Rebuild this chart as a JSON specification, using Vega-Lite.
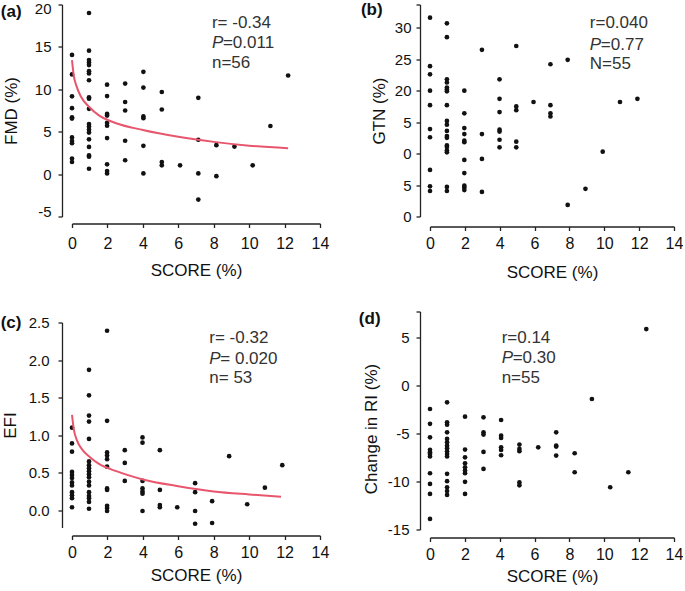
{
  "$schema": "https://vega.github.io/schema/vega-lite/v6.json",
  "padding": {"left": 0, "top": -2.5, "right": 0, "bottom": 0},
  "background": "white",
  "datasets": {
    "a_pts": [
      {"score": 0, "value": 14.05}, {"score": 0, "value": 11.75}, {"score": 0, "value": 9.17}, {"score": 0, "value": 7.78}, {"score": 0, "value": 6.7}, {"score": 0, "value": 6.55}, {"score": 0, "value": 4.33}, {"score": 0, "value": 3.9}, {"score": 0, "value": 3.65}, {"score": 0, "value": 1.83}, {"score": 0, "value": 1.43},
      {"score": 0.96, "value": 19.0}, {"score": 0.96, "value": 14.56}, {"score": 0.96, "value": 13.45}, {"score": 0.96, "value": 13.17}, {"score": 0.96, "value": 12.86}, {"score": 0.96, "value": 12.14}, {"score": 0.96, "value": 11.87}, {"score": 0.96, "value": 11.07}, {"score": 0.96, "value": 9.05}, {"score": 0.96, "value": 8.9}, {"score": 0.96, "value": 7.7}, {"score": 0.96, "value": 5.9}, {"score": 0.96, "value": 5.6}, {"score": 0.96, "value": 5.24}, {"score": 0.96, "value": 4.9}, {"score": 0.96, "value": 4.1}, {"score": 0.96, "value": 3.2}, {"score": 0.96, "value": 2.2}, {"score": 0.96, "value": 2.06}, {"score": 0.96, "value": 0.63},
      {"score": 1.98, "value": 10.55}, {"score": 1.98, "value": 9.2}, {"score": 1.98, "value": 7.1}, {"score": 1.98, "value": 6.9}, {"score": 1.98, "value": 6.03}, {"score": 1.98, "value": 5.7}, {"score": 1.98, "value": 4.25}, {"score": 1.98, "value": 1.15}, {"score": 1.98, "value": 0.36}, {"score": 1.98, "value": 0.08},
      {"score": 3.0, "value": 10.67}, {"score": 3.0, "value": 8.5}, {"score": 3.0, "value": 7.5}, {"score": 3.0, "value": 3.93}, {"score": 3.0, "value": 1.63},
      {"score": 4.03, "value": 12.06}, {"score": 4.03, "value": 10.2}, {"score": 4.03, "value": 6.8}, {"score": 4.03, "value": 6.6}, {"score": 4.03, "value": 3.33}, {"score": 4.03, "value": 0.08},
      {"score": 5.07, "value": 9.68}, {"score": 5.07, "value": 7.62}, {"score": 5.07, "value": 1.43}, {"score": 5.07, "value": 1.03},
      {"score": 6.1, "value": 1.03},
      {"score": 7.13, "value": 9.0}, {"score": 7.13, "value": 4.05}, {"score": 7.13, "value": 0.08}, {"score": 7.13, "value": -3.0},
      {"score": 8.15, "value": 3.41}, {"score": 8.15, "value": -0.24},
      {"score": 9.17, "value": 3.25}, {"score": 10.2, "value": 1.03}, {"score": 11.2, "value": 5.67}, {"score": 12.2, "value": 11.63}
    ],
    "a_fit": [
      {"score": 0, "value": 13.45}, {"score": 0.1, "value": 11.6}, {"score": 0.25, "value": 10.4}, {"score": 0.5, "value": 9.15}, {"score": 1, "value": 7.85}, {"score": 1.5, "value": 6.95}, {"score": 2.5, "value": 6.0}, {"score": 4, "value": 5.2}, {"score": 6, "value": 4.4}, {"score": 8, "value": 3.8}, {"score": 10, "value": 3.35}, {"score": 12.2, "value": 3.05}
    ],
    "b_pts": [
      {"score": 0, "value": 31.6}, {"score": 0, "value": 23.9}, {"score": 0, "value": 22.6}, {"score": 0, "value": 20.0}, {"score": 0, "value": 17.7}, {"score": 0, "value": 13.9}, {"score": 0, "value": 12.6}, {"score": 0, "value": 7.4}, {"score": 0, "value": 4.8}, {"score": 0, "value": 4.05},
      {"score": 0.97, "value": 30.7}, {"score": 0.97, "value": 28.5}, {"score": 0.97, "value": 21.8}, {"score": 0.97, "value": 21.3}, {"score": 0.97, "value": 20.5}, {"score": 0.97, "value": 20.2}, {"score": 0.97, "value": 19.9}, {"score": 0.97, "value": 17.7}, {"score": 0.97, "value": 15.2}, {"score": 0.97, "value": 14.6}, {"score": 0.97, "value": 13.6}, {"score": 0.97, "value": 12.8}, {"score": 0.97, "value": 12.5}, {"score": 0.97, "value": 11.3}, {"score": 0.97, "value": 11.05}, {"score": 0.97, "value": 10.5}, {"score": 0.97, "value": 10.2}, {"score": 0.97, "value": 4.7}, {"score": 0.97, "value": 4.05},
      {"score": 1.97, "value": 20.0}, {"score": 1.97, "value": 16.4}, {"score": 1.97, "value": 14.05}, {"score": 1.97, "value": 13.1}, {"score": 1.97, "value": 12.05}, {"score": 1.97, "value": 11.8}, {"score": 1.97, "value": 9.0}, {"score": 1.97, "value": 6.9}, {"score": 1.97, "value": 4.9}, {"score": 1.97, "value": 4.6}, {"score": 1.97, "value": 4.2},
      {"score": 2.98, "value": 26.5}, {"score": 2.98, "value": 13.1}, {"score": 2.98, "value": 9.15}, {"score": 2.98, "value": 3.9},
      {"score": 3.99, "value": 21.8}, {"score": 3.99, "value": 18.7}, {"score": 3.99, "value": 16.6}, {"score": 3.99, "value": 13.8}, {"score": 3.99, "value": 13.5}, {"score": 3.99, "value": 12.2}, {"score": 3.99, "value": 11.0},
      {"score": 4.95, "value": 27.1}, {"score": 4.95, "value": 17.5}, {"score": 4.95, "value": 16.9}, {"score": 4.95, "value": 11.9}, {"score": 4.95, "value": 11.0},
      {"score": 5.94, "value": 18.2},
      {"score": 6.91, "value": 24.2}, {"score": 6.91, "value": 17.7}, {"score": 6.91, "value": 16.4}, {"score": 6.91, "value": 15.9},
      {"score": 7.9, "value": 24.9}, {"score": 7.9, "value": 1.84},
      {"score": 8.92, "value": 4.4}, {"score": 9.91, "value": 10.3}, {"score": 10.9, "value": 18.2}, {"score": 11.9, "value": 18.7}
    ],
    "c_pts": [
      {"score": 0, "value": 1.1}, {"score": 0, "value": 0.89}, {"score": 0, "value": 0.78}, {"score": 0, "value": 0.51}, {"score": 0, "value": 0.47}, {"score": 0, "value": 0.43}, {"score": 0, "value": 0.37}, {"score": 0, "value": 0.33}, {"score": 0, "value": 0.24}, {"score": 0, "value": 0.2}, {"score": 0, "value": 0.16}, {"score": 0, "value": 0.04},
      {"score": 0.96, "value": 1.87}, {"score": 0.96, "value": 1.53}, {"score": 0.96, "value": 1.26}, {"score": 0.96, "value": 1.18}, {"score": 0.96, "value": 0.95}, {"score": 0.96, "value": 0.65}, {"score": 0.96, "value": 0.6}, {"score": 0.96, "value": 0.56}, {"score": 0.96, "value": 0.52}, {"score": 0.96, "value": 0.48}, {"score": 0.96, "value": 0.44}, {"score": 0.96, "value": 0.38}, {"score": 0.96, "value": 0.33}, {"score": 0.96, "value": 0.24}, {"score": 0.96, "value": 0.19}, {"score": 0.96, "value": 0.16}, {"score": 0.96, "value": 0.11}, {"score": 0.96, "value": 0.02},
      {"score": 1.98, "value": 2.39}, {"score": 1.98, "value": 1.19}, {"score": 1.98, "value": 0.77}, {"score": 1.98, "value": 0.73}, {"score": 1.98, "value": 0.68}, {"score": 1.98, "value": 0.58}, {"score": 1.98, "value": 0.29}, {"score": 1.98, "value": 0.27}, {"score": 1.98, "value": 0.06}, {"score": 1.98, "value": 0.03}, {"score": 1.98, "value": -0.01},
      {"score": 2.98, "value": 0.8}, {"score": 2.98, "value": 0.63}, {"score": 2.98, "value": 0.39},
      {"score": 3.98, "value": 0.97}, {"score": 3.98, "value": 0.9}, {"score": 3.98, "value": 0.39}, {"score": 3.98, "value": 0.29}, {"score": 3.98, "value": 0.25}, {"score": 3.98, "value": 0.22}, {"score": 3.98, "value": -0.01},
      {"score": 4.96, "value": 0.8}, {"score": 4.96, "value": 0.27}, {"score": 4.96, "value": 0.07}, {"score": 4.96, "value": 0.04},
      {"score": 5.94, "value": 0.04},
      {"score": 6.95, "value": 0.36}, {"score": 6.95, "value": 0.24}, {"score": 6.95, "value": -0.01}, {"score": 6.95, "value": -0.18},
      {"score": 7.91, "value": 0.12}, {"score": 7.91, "value": -0.17},
      {"score": 8.87, "value": 0.72}, {"score": 9.89, "value": 0.08}, {"score": 10.89, "value": 0.3}, {"score": 11.87, "value": 0.6}
    ],
    "c_fit": [
      {"score": 0, "value": 1.27}, {"score": 0.1, "value": 1.08}, {"score": 0.28, "value": 0.93}, {"score": 0.6, "value": 0.8}, {"score": 1, "value": 0.71}, {"score": 1.5, "value": 0.62}, {"score": 2.5, "value": 0.52}, {"score": 4, "value": 0.41}, {"score": 6, "value": 0.32}, {"score": 8, "value": 0.25}, {"score": 10, "value": 0.21}, {"score": 11.8, "value": 0.18}
    ],
    "d_pts": [
      {"score": 0, "value": -2.45}, {"score": 0, "value": -4.0}, {"score": 0, "value": -5.4}, {"score": 0, "value": -6.7}, {"score": 0, "value": -6.96}, {"score": 0, "value": -7.13}, {"score": 0, "value": -7.4}, {"score": 0, "value": -9.14}, {"score": 0, "value": -10.25}, {"score": 0, "value": -11.3}, {"score": 0, "value": -13.9},
      {"score": 0.98, "value": -1.76}, {"score": 0.98, "value": -3.84}, {"score": 0.98, "value": -4.08}, {"score": 0.98, "value": -4.88}, {"score": 0.98, "value": -5.57}, {"score": 0.98, "value": -5.92}, {"score": 0.98, "value": -6.27}, {"score": 0.98, "value": -6.54}, {"score": 0.98, "value": -6.85}, {"score": 0.98, "value": -7.13}, {"score": 0.98, "value": -7.4}, {"score": 0.98, "value": -9.2}, {"score": 0.98, "value": -9.97}, {"score": 0.98, "value": -10.6}, {"score": 0.98, "value": -11.0}, {"score": 0.98, "value": -11.4},
      {"score": 2.01, "value": -3.25}, {"score": 2.01, "value": -6.68}, {"score": 2.01, "value": -7.48}, {"score": 2.01, "value": -8.1}, {"score": 2.01, "value": -8.52}, {"score": 2.01, "value": -8.86}, {"score": 2.01, "value": -9.14}, {"score": 2.01, "value": -10.04}, {"score": 2.01, "value": -11.3},
      {"score": 3.07, "value": -3.32}, {"score": 3.07, "value": -4.88}, {"score": 3.07, "value": -5.12}, {"score": 3.07, "value": -6.92}, {"score": 3.07, "value": -8.69},
      {"score": 4.08, "value": -3.6}, {"score": 4.08, "value": -5.23}, {"score": 4.08, "value": -5.47}, {"score": 4.08, "value": -6.44}, {"score": 4.08, "value": -6.72}, {"score": 4.08, "value": -7.27},
      {"score": 5.13, "value": -6.16}, {"score": 5.13, "value": -6.61}, {"score": 5.13, "value": -6.85}, {"score": 5.13, "value": -10.1}, {"score": 5.13, "value": -10.4},
      {"score": 6.21, "value": -6.44},
      {"score": 7.24, "value": -4.88}, {"score": 7.24, "value": -6.27}, {"score": 7.24, "value": -6.37}, {"score": 7.24, "value": -7.3},
      {"score": 8.3, "value": -7.06}, {"score": 8.3, "value": -9.04},
      {"score": 9.29, "value": -1.41}, {"score": 10.34, "value": -10.6}, {"score": 11.38, "value": -9.04}, {"score": 12.41, "value": 5.87}
    ],
    "one": [{}]
  },
  "config": {
    "view": {"stroke": null},
    "font": "Liberation Sans",
    "axis": {
      "grid": false, "domainColor": "#222", "tickColor": "#222", "domainWidth": 1.3, "tickWidth": 1.3, "tickSize": 4,
      "labelFont": "Liberation Sans", "titleFont": "Liberation Sans", "labelColor": "#111", "titleColor": "#111",
      "titleFontWeight": "normal", "labelFontSize": 15, "titleFontSize": 17, "labelOverlap": false, "labelFlush": false,
      "labelExpr": "replace(datum.label, '\u2212', '-')"
    },
    "axisX": {"labelFontSize": 16, "labelAngle": 0},
    "text": {"font": "Liberation Sans", "fontSize": 17, "color": "#333", "align": "left", "baseline": "middle"},
    "circle": {"size": 22, "color": "#111", "opacity": 1},
    "line": {"color": "#e8566e", "strokeWidth": 2, "interpolate": "monotone"}
  },
  "hconcat": [
    {
      "vconcat": [
        {
          "width": 248, "height": 212,
          "encoding": {
            "x": {"type": "quantitative", "title": "SCORE (%)", "scale": {"domain": [0, 14], "nice": false, "zero": false}, "axis": {"values": [0, 2, 4, 6, 8, 10, 12, 14], "offset": 7, "labelPadding": 8, "titlePadding": 11}},
            "y": {"type": "quantitative", "title": "FMD (%)", "scale": {"domain": [-5, 20], "nice": false, "zero": false}, "axis": {"values": [-5, 0, 5, 10, 15, 20], "offset": 10, "labelPadding": 7, "titlePadding": 14, "labelFlush": true, "labelFlushOffset": 3}}
          },
          "layer": [
            {"data": {"name": "a_pts"}, "mark": "circle", "encoding": {"x": {"field": "score"}, "y": {"field": "value"}}},
            {"data": {"name": "a_fit"}, "mark": "line", "encoding": {"x": {"field": "score"}, "y": {"field": "value"}}},
            {"data": {"name": "one"}, "mark": {"type": "text", "text": "(a)", "fontWeight": "bold", "color": "#111", "align": "center"}, "encoding": {"x": {"datum": -3.43}, "y": {"datum": 19.12}}},
            {"data": {"name": "one"}, "mark": {"type": "text", "text": "r= -0.34"}, "encoding": {"x": {"datum": 7.9}, "y": {"datum": 17.8}}},
            {"data": {"name": "one"}, "mark": {"type": "text", "text": "P", "fontStyle": "italic"}, "encoding": {"x": {"datum": 7.9}, "y": {"datum": 15.44}}},
            {"data": {"name": "one"}, "mark": {"type": "text", "text": "=0.011", "dx": 11}, "encoding": {"x": {"datum": 7.9}, "y": {"datum": 15.44}}},
            {"data": {"name": "one"}, "mark": {"type": "text", "text": "n=56"}, "encoding": {"x": {"datum": 7.9}, "y": {"datum": 13.13}}}
          ]
        },
        {
          "width": 248, "height": 205,
          "encoding": {
            "x": {"type": "quantitative", "title": "SCORE (%)", "scale": {"domain": [0, 14], "nice": false, "zero": false}, "axis": {"values": [0, 2, 4, 6, 8, 10, 12, 14], "offset": 8, "labelPadding": 5, "titlePadding": 7}},
            "y": {"type": "quantitative", "title": "EFI", "scale": {"domain": [-0.23, 2.5], "nice": false, "zero": false}, "axis": {"values": [0, 0.5, 1, 1.5, 2, 2.5], "format": ".1f", "offset": 10, "labelPadding": 9, "titlePadding": 9}}
          },
          "layer": [
            {"data": {"name": "c_pts"}, "mark": "circle", "encoding": {"x": {"field": "score"}, "y": {"field": "value"}}},
            {"data": {"name": "c_fit"}, "mark": "line", "encoding": {"x": {"field": "score"}, "y": {"field": "value"}}},
            {"data": {"name": "one"}, "mark": {"type": "text", "text": "(c)", "fontWeight": "bold", "color": "#111", "align": "center"}, "encoding": {"x": {"datum": -3.44}, "y": {"datum": 2.49}}},
            {"data": {"name": "one"}, "mark": {"type": "text", "text": "r= -0.32"}, "encoding": {"x": {"datum": 7.75}, "y": {"datum": 2.29}}},
            {"data": {"name": "one"}, "mark": {"type": "text", "text": "P", "fontStyle": "italic"}, "encoding": {"x": {"datum": 7.75}, "y": {"datum": 2.01}}},
            {"data": {"name": "one"}, "mark": {"type": "text", "text": "= 0.020", "dx": 11}, "encoding": {"x": {"datum": 7.75}, "y": {"datum": 2.01}}},
            {"data": {"name": "one"}, "mark": {"type": "text", "text": "n= 53"}, "encoding": {"x": {"datum": 7.75}, "y": {"datum": 1.76}}}
          ]
        }
      ],
      "spacing": 35
    },
    {
      "vconcat": [
        {
          "width": 244, "height": 212,
          "encoding": {
            "x": {"type": "quantitative", "title": "SCORE (%)", "scale": {"domain": [0, 14], "nice": false, "zero": false}, "axis": {"values": [0, 2, 4, 6, 8, 10, 12, 14], "offset": 10, "labelPadding": 5, "titlePadding": 13}},
            "y": {"type": "quantitative", "title": "GTN (%)", "scale": {"domain": [0, 33.7], "nice": false, "zero": false}, "axis": {"values": [0, 5, 10, 15, 20, 25, 30, 33.7], "labelExpr": "datum.value == 15 ? '5' : datum.value == 10 ? '0' : datum.value > 31 ? '' : datum.label", "offset": 10, "labelPadding": 5, "titlePadding": 6}}
          },
          "layer": [
            {"data": {"name": "b_pts"}, "mark": "circle", "encoding": {"x": {"field": "score"}, "y": {"field": "value"}}},
            {"data": {"name": "one"}, "mark": {"type": "text", "text": "(b)", "fontWeight": "bold", "color": "#111", "align": "center"}, "encoding": {"x": {"datum": -3.34}, "y": {"datum": 32.75}}},
            {"data": {"name": "one"}, "mark": {"type": "text", "text": "r=0.040"}, "encoding": {"x": {"datum": 9.17}, "y": {"datum": 30.68}}},
            {"data": {"name": "one"}, "mark": {"type": "text", "text": "P", "fontStyle": "italic"}, "encoding": {"x": {"datum": 9.17}, "y": {"datum": 27.24}}},
            {"data": {"name": "one"}, "mark": {"type": "text", "text": "=0.77", "dx": 11}, "encoding": {"x": {"datum": 9.17}, "y": {"datum": 27.24}}},
            {"data": {"name": "one"}, "mark": {"type": "text", "text": "N=55"}, "encoding": {"x": {"datum": 9.17}, "y": {"datum": 24.29}}}
          ]
        },
        {
          "width": 244, "height": 218,
          "encoding": {
            "x": {"type": "quantitative", "title": "SCORE (%)", "scale": {"domain": [0, 14], "nice": false, "zero": false}, "axis": {"values": [0, 2, 4, 6, 8, 10, 12, 14], "offset": 8, "labelPadding": 5, "titlePadding": 6}},
            "y": {"type": "quantitative", "title": "Change in RI (%)", "scale": {"domain": [-15, 7.7], "nice": false, "zero": false}, "axis": {"values": [-15, -10, -5, 0, 5, 7.7], "labelExpr": "datum.value > 6 ? '' : replace(datum.label, '\u2212', '-')", "offset": 10, "labelPadding": 7, "titlePadding": 7, "titleY": 117}}
          },
          "layer": [
            {"data": {"name": "d_pts"}, "mark": "circle", "encoding": {"x": {"field": "score"}, "y": {"field": "value"}}},
            {"data": {"name": "one"}, "mark": {"type": "text", "text": "(d)", "fontWeight": "bold", "color": "#111", "align": "center"}, "encoding": {"x": {"datum": -3.46}, "y": {"datum": 6.89}}},
            {"data": {"name": "one"}, "mark": {"type": "text", "text": "r=0.14"}, "encoding": {"x": {"datum": 4.11}, "y": {"datum": 4.9}}},
            {"data": {"name": "one"}, "mark": {"type": "text", "text": "P", "fontStyle": "italic"}, "encoding": {"x": {"datum": 4.11}, "y": {"datum": 2.82}}},
            {"data": {"name": "one"}, "mark": {"type": "text", "text": "=0.30", "dx": 11}, "encoding": {"x": {"datum": 4.11}, "y": {"datum": 2.82}}},
            {"data": {"name": "one"}, "mark": {"type": "text", "text": "n=55"}, "encoding": {"x": {"datum": 4.11}, "y": {"datum": 0.78}}}
          ]
        }
      ],
      "spacing": 24
    }
  ],
  "spacing": 29
}
